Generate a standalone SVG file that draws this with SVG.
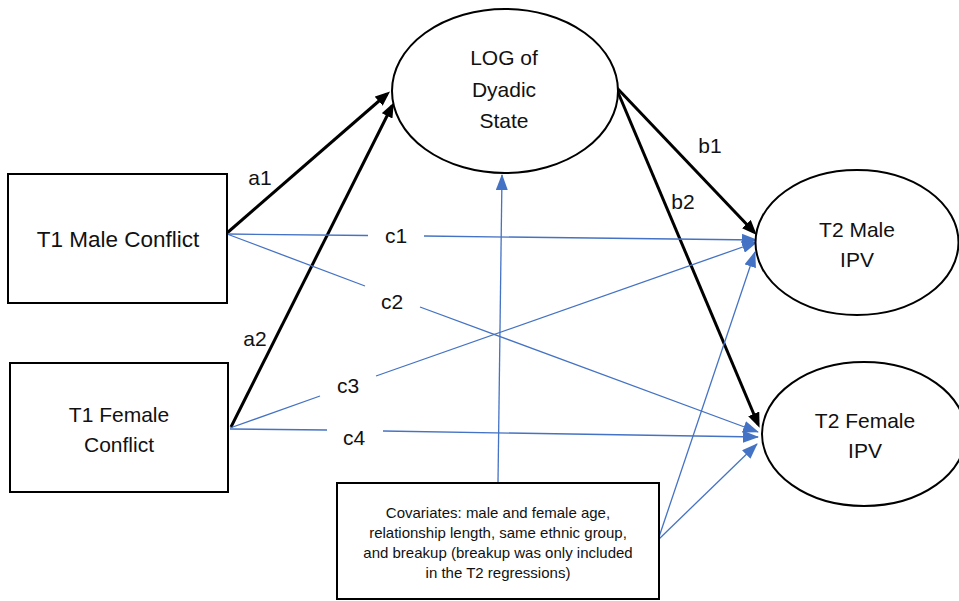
<svg xmlns="http://www.w3.org/2000/svg" width="959" height="601" viewBox="0 0 959 601">
  <style>
    .node { fill: #fff; stroke: #000; stroke-width: 2; }
    .lbl { font-family: "Liberation Sans", Arial, sans-serif; font-size: 21px; fill: #111; text-anchor: middle; }
    .path { font-family: "Liberation Sans", Arial, sans-serif; font-size: 21px; fill: #111; text-anchor: middle; }
    .cov { font-family: "Liberation Sans", Arial, sans-serif; font-size: 15px; fill: #111; text-anchor: middle; }
    .k { stroke: #000; stroke-width: 3; fill: none; }
    .b { stroke: #4472C4; stroke-width: 1.3; fill: none; }
  </style>
  <defs>
    <marker id="ah-k" markerUnits="userSpaceOnUse" markerWidth="15" markerHeight="12" refX="11" refY="6" orient="auto">
      <path d="M0,0 L15,6 L0,12 Z" fill="#000"/>
    </marker>
    <marker id="ah-b" markerUnits="userSpaceOnUse" markerWidth="16" markerHeight="12" refX="15" refY="6" orient="auto">
      <path d="M0,0 L16,6 L0,12 Z" fill="#4472C4"/>
    </marker>
  </defs>
  <rect width="959" height="601" fill="#fff"/>

  <!-- connectors -->
  <g id="connectors">
    <!-- a paths -->
    <line class="k" x1="227" y1="233" x2="387" y2="94" marker-end="url(#ah-k)"/>
    <line class="k" x1="231" y1="427" x2="392" y2="106" marker-end="url(#ah-k)"/>
    <!-- b paths -->
    <line class="k" x1="617" y1="88" x2="754" y2="232" marker-end="url(#ah-k)"/>
    <line class="k" x1="617" y1="90" x2="758" y2="424" marker-end="url(#ah-k)"/>
    <!-- c paths, broken around their labels -->
    <line class="b" x1="227" y1="234" x2="368" y2="235.5"/>
    <line class="b" x1="424" y1="236" x2="757" y2="240" marker-end="url(#ah-b)"/>
    <line class="b" x1="227" y1="234" x2="365" y2="286"/>
    <line class="b" x1="420" y1="307" x2="758" y2="432" marker-end="url(#ah-b)"/>
    <line class="b" x1="230" y1="428" x2="320" y2="396"/>
    <line class="b" x1="376" y1="376" x2="757" y2="242" marker-end="url(#ah-b)"/>
    <line class="b" x1="230" y1="429" x2="327" y2="430"/>
    <line class="b" x1="383" y1="431" x2="758" y2="437" marker-end="url(#ah-b)"/>
    <!-- covariate paths -->
    <line class="b" x1="498" y1="483" x2="502" y2="175" marker-end="url(#ah-b)"/>
    <line class="b" x1="658" y1="540" x2="755" y2="252" marker-end="url(#ah-b)"/>
    <line class="b" x1="658" y1="540" x2="757" y2="444" marker-end="url(#ah-b)"/>
  </g>

  <!-- path labels -->
  <g id="path-labels">
    <text class="path" x="260" y="185">a1</text>
    <text class="path" x="255" y="346">a2</text>
    <text class="path" x="710" y="153">b1</text>
    <text class="path" x="683" y="209">b2</text>
    <text class="path" x="396" y="243">c1</text>
    <text class="path" x="392" y="309">c2</text>
    <text class="path" x="348" y="393">c3</text>
    <text class="path" x="354" y="445">c4</text>
  </g>

  <g id="node-dyadic">
    <ellipse class="node" cx="505" cy="91" rx="113" ry="82"/>
    <text class="lbl" x="504" y="65">LOG of</text>
    <text class="lbl" x="504" y="97">Dyadic</text>
    <text class="lbl" x="504" y="128">State</text>
  </g>

  <g id="node-t1-male">
    <rect class="node" x="8" y="174" width="219" height="129"/>
    <text class="lbl" x="118" y="247" style="font-size:22.5px">T1 Male Conflict</text>
  </g>

  <g id="node-t1-female">
    <rect class="node" x="10" y="363" width="218" height="129"/>
    <text class="lbl" x="119" y="422">T1 Female</text>
    <text class="lbl" x="119" y="452">Conflict</text>
  </g>

  <g id="node-t2-male">
    <ellipse class="node" cx="857" cy="242.5" rx="101.5" ry="72.5"/>
    <text class="lbl" x="857" y="237">T2 Male</text>
    <text class="lbl" x="857" y="267">IPV</text>
  </g>

  <g id="node-t2-female">
    <ellipse class="node" cx="864" cy="434" rx="102" ry="72"/>
    <text class="lbl" x="865" y="428">T2 Female</text>
    <text class="lbl" x="865" y="458">IPV</text>
  </g>

  <g id="node-covariates">
    <rect class="node" x="337" y="483" width="322" height="116"/>
    <text class="cov" x="498" y="518">Covariates: male and female age,</text>
    <text class="cov" x="498" y="538">relationship length, same ethnic group,</text>
    <text class="cov" x="498" y="558">and breakup (breakup was only included</text>
    <text class="cov" x="498" y="578">in the T2 regressions)</text>
  </g>
</svg>
